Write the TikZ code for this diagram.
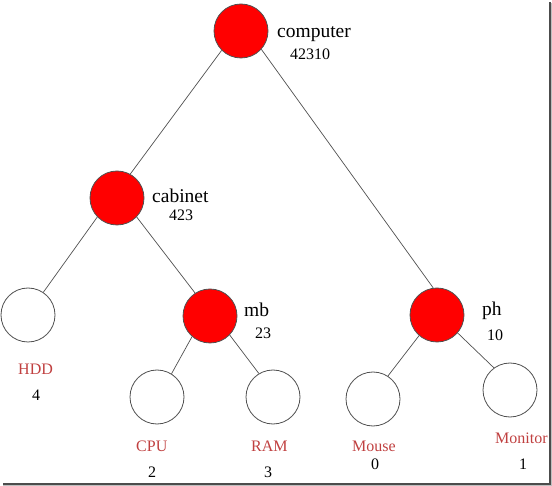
\documentclass[tikz,border=0pt]{standalone}
\usepackage{fontspec}
\setmainfont{Liberation Serif}
\definecolor{nodered}{RGB}{255,0,0}
\definecolor{labred}{RGB}{192,64,64}
\definecolor{edgegray}{RGB}{80,80,80}
\begin{document}
\begin{tikzpicture}[x=1pt,y=-1pt,
  fullnode/.style={circle,draw=edgegray,line width=0.8pt,fill=nodered,minimum size=54pt,inner sep=0pt},
  emptynode/.style={circle,draw=edgegray,line width=0.8pt,fill=white,minimum size=54pt,inner sep=0pt},
  edgeline/.style={draw=edgegray,line width=0.7pt},
  mainlbl/.style={anchor=base west,inner sep=0pt,font=\fontsize{19.5}{20}\selectfont},
  numlbl/.style={anchor=base west,inner sep=0pt,font=\fontsize{16}{17}\selectfont},
  leaflbl/.style={anchor=base west,inner sep=0pt,text=labred,font=\fontsize{16}{17}\selectfont},
  leafnum/.style={anchor=base,inner sep=0pt,font=\fontsize{16}{17}\selectfont}]
\useasboundingbox (0,0) rectangle (552,486);
% frame shadow
\draw[line width=1.2pt,black!25] (552,3) -- (552,486);
\draw[line width=1.2pt,black!25] (3,486) -- (552,486);
\draw[line width=2pt,black!70] (549.5,2) -- (549.5,483.5) -- (3,483.5);
% nodes
\node[fullnode] (computer) at (241,31) {};
\node[fullnode] (cabinet) at (117,198) {};
\node[emptynode] (hdd) at (28,315) {};
\node[fullnode] (mb) at (210,316) {};
\node[emptynode] (cpu) at (157,397) {};
\node[emptynode] (ram) at (273,397) {};
\node[fullnode] (ph) at (437,315) {};
\node[emptynode] (mouse) at (373,399) {};
\node[emptynode] (monitor) at (510,390) {};
% edges
\draw[edgeline] (computer.-135) -- (cabinet.61);
\draw[edgeline] (computer.-42) -- (ph.98);
\draw[edgeline] (cabinet.-136) -- (hdd.56);
\draw[edgeline] (cabinet.-44) -- (mb.123);
\draw[edgeline] (mb.-131) -- (cpu.58);
\draw[edgeline] (mb.-44) -- (ram.121);
\draw[edgeline] (ph.-131) -- (mouse.57);
\draw[edgeline] (ph.-41) -- (monitor.126);
% labels
\node[mainlbl] (tcomputer) at (277,38) {computer};
\node[numlbl] (ncomputer) at (290,60) {42310};
\node[mainlbl] (tcabinet) at (152,203) {cabinet};
\node[numlbl] (ncabinet) at (169,221) {423};
\node[mainlbl] (tmb) at (244,317) {mb};
\node[numlbl] (nmb) at (255,339) {23};
\node[mainlbl] (tph) at (482,316) {ph};
\node[numlbl] (nph) at (487,341) {10};
\node[leaflbl] (thdd) at (18,375) {HDD};
\node[leafnum] (nhdd) at (36,401) {4};
\node[leaflbl] (tcpu) at (136,452) {CPU};
\node[leafnum] (ncpu) at (152,477) {2};
\node[leaflbl] (tram) at (251,452) {RAM};
\node[leafnum] (nram) at (268,477) {3};
\node[leaflbl] (tmouse) at (352,451) {Mouse};
\node[leafnum] (nmouse) at (375,469) {0};
\node[leaflbl] (tmonitor) at (495,443) {Monitor};
\node[leafnum] (nmonitor) at (523,470) {1};
\end{tikzpicture}
\end{document}
